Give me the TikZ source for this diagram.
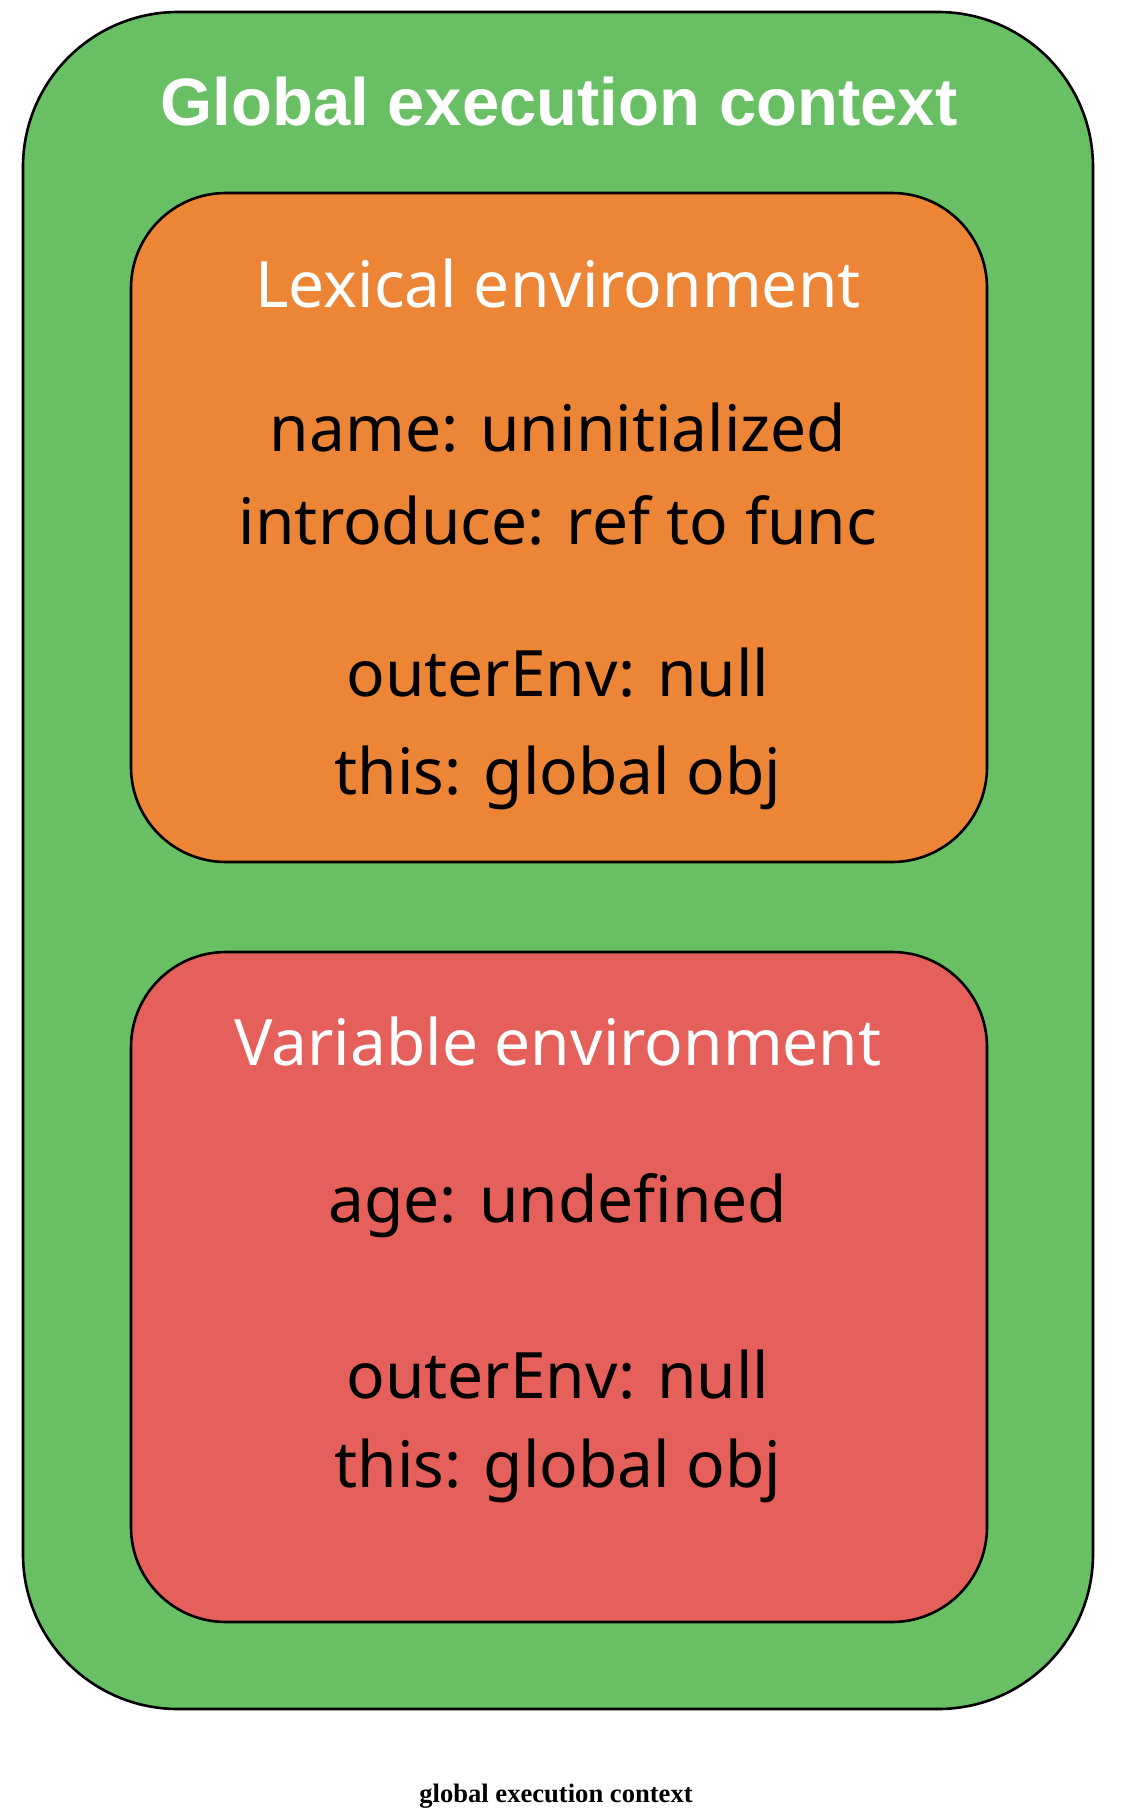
\documentclass[tikz,border=0pt]{standalone}
\usepackage{fontspec}
\setmainfont{Noto Sans}
\newfontfamily\titlefont{Liberation Sans}
\newfontfamily\capfont{Liberation Serif}
\definecolor{ctxgreen}{HTML}{68BF64}
\definecolor{lexorange}{HTML}{ED8537}
\definecolor{varred}{HTML}{E5605A}
\begin{document}
\begin{tikzpicture}[x=1pt,y=-1pt,
  box/.style={draw=black,line width=2.6pt},
  head/.style={anchor=base,text=white,inner sep=0pt,font=\fontsize{64}{72}\selectfont},
  title/.style={anchor=base,text=white,inner sep=0pt,font=\titlefont\bfseries\fontsize{67}{75}\selectfont},
  entry/.style={anchor=base,text=black,inner sep=0pt,font=\fontsize{64}{72}\selectfont},
  caption/.style={anchor=base,text=black,inner sep=0pt,font=\capfont\bfseries\fontsize{26.6}{30}\selectfont}]
\useasboundingbox (0,0) rectangle (1120,1820);
\fill[white] (0,0) rectangle (1120,1820);
% outer context
\draw[box,fill=ctxgreen,rounded corners=155pt] (23,12) rectangle (1093,1709);
\node[title] (gtitle) at (559,125) {Global execution context};
% lexical environment
\draw[box,fill=lexorange,rounded corners=95pt] (131,193) rectangle (987,862);
\node[head] (lexhead) at (558,307) {Lexical environment};
\node[entry] (lexname) at (558,451) {name: uninitialized};
\node[entry] (lexintro) at (558,544) {introduce: ref to func};
\node[entry] (lexouter) at (558,696) {outerEnv: null};
\node[entry] (lexthis) at (558,794) {this: global obj};
% variable environment
\draw[box,fill=varred,rounded corners=95pt] (131,952) rectangle (987,1622);
\node[head] (varhead) at (558,1065) {Variable environment};
\node[entry] (varage) at (558,1222) {age: undefined};
\node[entry] (varouter) at (558,1398) {outerEnv: null};
\node[entry] (varthis) at (558,1487) {this: global obj};
% caption
\node[caption] (cap) at (556,1802) {global execution context};
\end{tikzpicture}
\end{document}
